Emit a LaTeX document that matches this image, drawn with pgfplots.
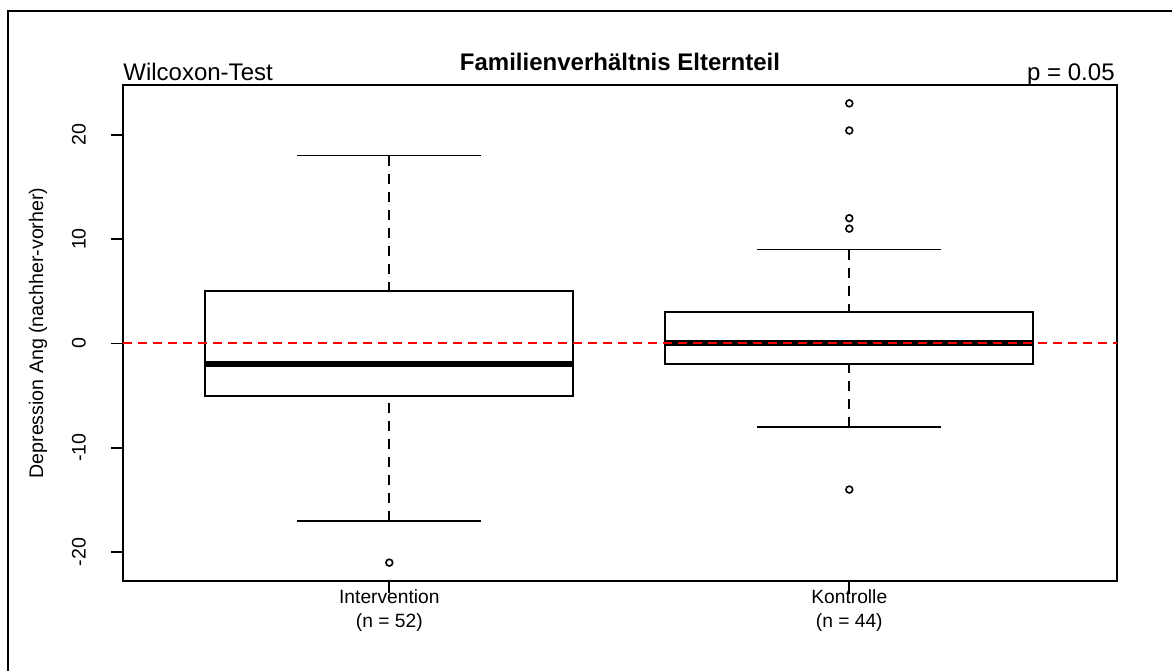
\documentclass[border=0pt]{standalone}
\usepackage{pgfplots}
\pgfplotsset{compat=1.18}
\usepgfplotslibrary{statistics}
\usepackage{fontspec}
\setmainfont{Liberation Sans}
\definecolor{rred}{RGB}{255,0,0}

\pgfplotsset{
  boxplot/draw/lower whisker/.code={%
    \draw[black, line width=0.9pt, dash pattern=on 5pt off 4pt]
      (boxplot box cs:\pgfplotsboxplotvalue{lower whisker},0.5) --
      (boxplot box cs:\pgfplotsboxplotvalue{lower quartile},0.5);
    \draw[black, line width=0.9pt, solid]
      (boxplot whisker cs:\pgfplotsboxplotvalue{lower whisker},0) --
      (boxplot whisker cs:\pgfplotsboxplotvalue{lower whisker},1);
  },
  boxplot/draw/upper whisker/.code={%
    \draw[black, line width=0.9pt, dash pattern=on 5pt off 4pt]
      (boxplot box cs:\pgfplotsboxplotvalue{upper whisker},0.5) --
      (boxplot box cs:\pgfplotsboxplotvalue{upper quartile},0.5);
    \draw[black, line width=0.9pt, solid]
      (boxplot whisker cs:\pgfplotsboxplotvalue{upper whisker},0) --
      (boxplot whisker cs:\pgfplotsboxplotvalue{upper whisker},1);
  },
  boxplot/every median/.style={line width=3pt},
}

\begin{document}
\begin{tikzpicture}[x=1pt,y=1pt]
\draw[line width=0.9pt] (4,-10) -- (4,329.5) -- (600,329.5);
\begin{axis}[
  at={(61.5pt,44.5pt)}, anchor=south west,
  width=497pt, height=248pt, scale only axis,
  xmin=0.421, xmax=2.582, ymin=-22.76, ymax=24.76,
  axis line style={line width=0.9pt},
  tick align=outside, tick pos=left,
  major tick length=6pt,
  tick style={line width=0.9pt, black},
  xtick={1,2},
  xticklabels={{Intervention\\(n = 52)},{Kontrolle\\(n = 44)}},
  ytick={-20,-10,0,10,20},
  yticklabels={-20,-10,0,10,20},
  xticklabel style={yshift=5pt, align=center, font=\fontsize{9.6}{11.7}\selectfont},
  yticklabel style={xshift=-9pt, rotate=90, anchor=south, font=\fontsize{9.8}{11.7}\selectfont},
  ylabel={Depression Ang (nachher-vorher)},
  ylabel style={at={(axis description cs:-0.0855,0.5)}, anchor=center, font=\fontsize{9.8}{11.7}\selectfont},
  clip=false,
]
\addplot[boxplot prepared={draw position=1, draw direction=y, median=-2, lower quartile=-5, upper quartile=5,
    lower whisker=-17, upper whisker=18, box extend=0.8, whisker extend=0.4},
  black, line width=0.9pt, mark=o, mark size=1.7pt, mark options={solid, line width=0.8pt}]
  table[row sep=\\, y index=0] {y\\ -21\\};
\addplot[boxplot prepared={draw position=2, draw direction=y, median=0, lower quartile=-2, upper quartile=3,
    lower whisker=-8, upper whisker=9, box extend=0.8, whisker extend=0.4},
  black, line width=0.9pt, mark=o, mark size=1.7pt, mark options={solid, line width=0.8pt}]
  table[row sep=\\, y index=0] {y\\ 23\\ 20.4\\ 12\\ 11\\ -14\\};
\addplot[color=rred, solid, line width=1pt, dash pattern=on 4.5pt off 3pt, mark=none, sharp plot] table[row sep=\\] {x y\\ 0.421 0\\ 2.582 0\\};
\node[anchor=base, inner sep=0pt, yshift=7.5pt, font=\bfseries\fontsize{12}{14}\selectfont] at (axis description cs:0.5,1) {Familienverhältnis Elternteil};
\node[anchor=base west, inner sep=0pt, yshift=2.5pt, font=\fontsize{12}{14}\selectfont] at (axis description cs:0,1) {Wilcoxon-Test};
\node[anchor=base east, inner sep=0pt, yshift=2.5pt, font=\fontsize{12}{14}\selectfont] at (axis description cs:0.998,1) {p = 0.05};
\end{axis}
\pgfresetboundingbox
\useasboundingbox (0,0) rectangle (586,335);
\end{tikzpicture}
\end{document}
